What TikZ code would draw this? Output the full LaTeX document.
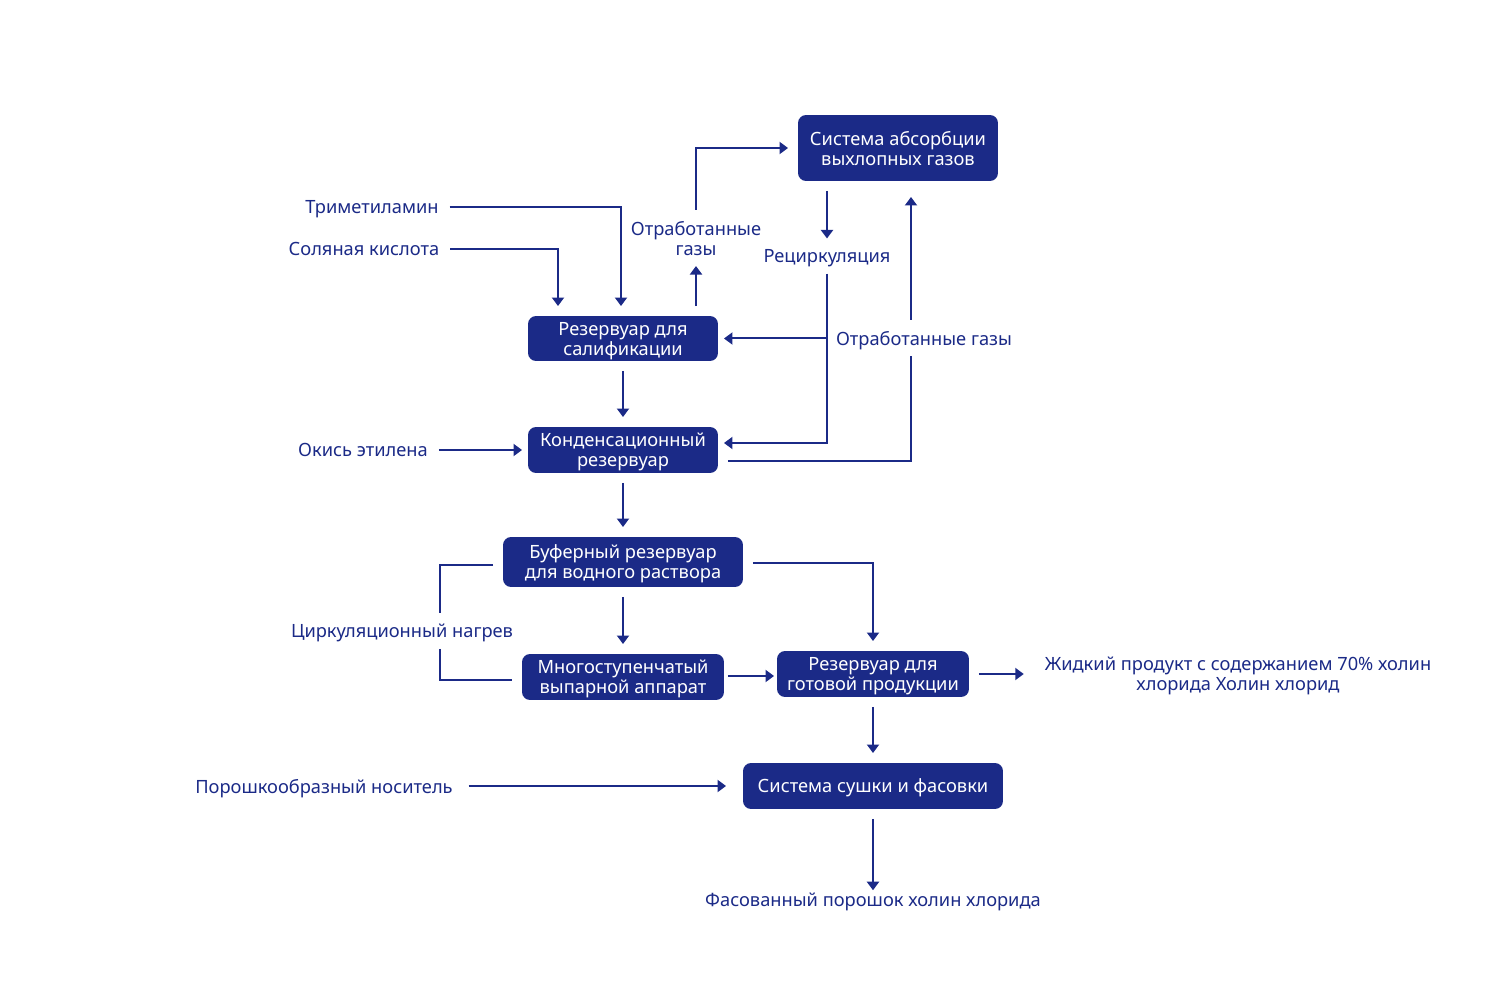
\documentclass[tikz,border=0pt]{standalone}
\usepackage{fontspec}
\setmainfont{Noto Sans}
\usetikzlibrary{arrows.meta,calc}
\definecolor{navy}{HTML}{1B2A87}
\begin{document}
\begin{tikzpicture}[x=0.02cm, y=-0.02cm, line width=0.04cm, color=navy,
  every node/.style={font=\fontsize{10.4}{11.4}\selectfont, align=center, text depth=0pt},
  box/.style={rectangle, rounded corners=0.16cm, fill=navy, text=white, inner sep=0cm, outer sep=0.2cm, minimum height=0.92cm},
  lbl/.style={inner sep=0cm, outer sep=0.22cm, text=navy},
  arr/.style={-{Triangle[width=0.24cm,length=0.17cm]}}]
	\useasboundingbox (0,0) rectangle (1485,993);

	\node (absorb) at (898,148) [box, minimum width=4cm, minimum height=1.32cm] {Система абсорбции\\выхлопных газов};
	\node (salif) at (623,338.5) [box, minimum width=3.8cm, minimum height=0.9cm] {Резервуар для\\салификации};
	\node (cond) at (623,450) [box, minimum width=3.8cm] {Конденсационный\\резервуар};
	\node (buffer) at (623,562) [box, minimum width=4.8cm, minimum height=1cm] {Буферный резервуар\\для водного раствора};
	\node (evap) at (623,677) [box, minimum width=4.04cm] {Многоступенчатый\\выпарной аппарат};
	\node (fin) at (873,674) [box, minimum width=3.84cm] {Резервуар для\\готовой продукции};
	\node (dry) at (873,786) [box, minimum width=5.2cm] {Система сушки и фасовки};

	\node (tma) at (372,207) [lbl] {Триметиламин};
	\node (hcl) at (364,249) [lbl] {Соляная кислота};
	\node (gas1) at (696,238) [lbl] {Отработанные\\газы};
	\node (rec) at (827,256) [lbl] {Рециркуляция};
	\node (gas2) at (924,338) [lbl] {Отработанные газы};
	\node (eo) at (363,450) [lbl] {Окись этилена};
	\node (circ) at (402,631) [lbl] {Циркуляционный нагрев};
	\node (liquid) at (1238,674) [lbl] {Жидкий продукт с содержанием 70\% холин\\хлорида Холин хлорид};
	\node (powder) at (324,786) [lbl] {Порошкообразный носитель};
	\node (packed) at (873,900) [lbl] {Фасованный порошок холин хлорида};

	\coordinate (upx) at (911,197);
	\coordinate (loop) at (440,631);
	\coordinate (recj) at (rec.south |- salif.east);

	\draw[arr] (tma) -| ($(salif.north)+(-2,0)$);
	\draw[arr] (hcl) -| ($(salif.north)+(-65,0)$);
	\draw[arr] (salif.north -| gas1) -- (gas1);
	\draw[arr] (gas1) |- (absorb);
	\draw[arr] (absorb.south -| rec.north) -- (rec);
	\draw[arr, shorten >=-0.08cm] (rec) |- ($(cond.east)+(0,-7)$);
	\draw[arr, shorten >=-0.08cm] (recj) -- (salif);
	\draw ($(cond.east)+(0,11)$) -| (upx |- gas2.south);
	\draw[arr] (upx |- gas2.north) -- (upx);
	\draw[arr] (salif) -- (cond);
	\draw[arr, shorten >=-0.08cm] (eo) -- (cond);
	\draw[arr] (cond) -- (buffer);
	\draw[arr] (buffer) -- (evap);
	\draw[arr] ($(buffer.east)+(0,1)$) -| (fin);
	\draw ($(buffer.west)+(0,3)$) -| (loop |- circ.north);
	\draw (loop |- circ.south) |- ($(evap.west)+(0,3)$);
	\draw[arr, shorten <=-0.12cm, shorten >=-0.14cm] (evap.east |- 0,676) -- (fin.west |- 0,676);
	\draw[arr, shorten >=0.2cm] (fin) -- (liquid);
	\draw[arr] (fin) -- (dry);
	\draw[arr, shorten <=0.1cm, shorten >=0.14cm] (powder) -- (dry);
	\draw[arr, shorten >=-0.16cm] (dry) -- (packed);
\end{tikzpicture}
\end{document}
